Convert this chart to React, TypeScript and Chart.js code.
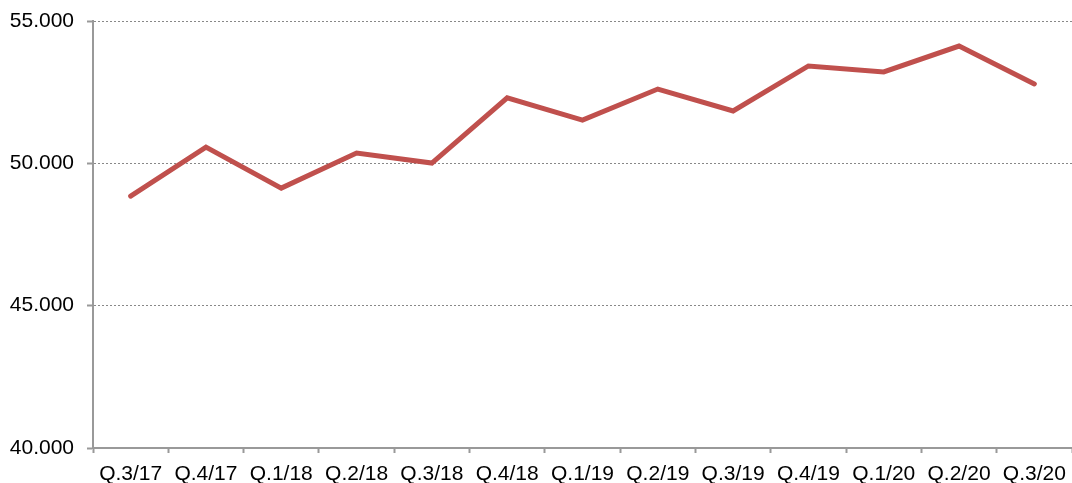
import React, { useEffect, useRef } from "react";
import { Chart, registerables } from "chart.js";

Chart.register(...registerables);

const categories = ["Q.3/17", "Q.4/17", "Q.1/18", "Q.2/18", "Q.3/18", "Q.4/18", "Q.1/19", "Q.2/19", "Q.3/19", "Q.4/19", "Q.1/20", "Q.2/20", "Q.3/20"];
const values = [48.85, 50.57, 49.13, 50.36, 50.01, 52.3, 51.52, 52.61, 51.84, 53.42, 53.21, 54.12, 52.79];
const yMin = 40;
const yMax = 55;
const yStep = 5;

const fmt = (v: number) => v.toFixed(3);

export default function App() {
  const ref = useRef<HTMLCanvasElement | null>(null);
  useEffect(() => {
    document.body.style.margin = "0";
    const ctx = ref.current!;
    const chart = new Chart(ctx, {
      type: "line",
      data: {
        labels: categories,
        datasets: [
          {
            data: values,
            borderColor: "#C0504D",
            borderWidth: 5,
            borderCapStyle: "round",
            borderJoinStyle: "miter",
            pointRadius: 0,
            tension: 0,
            fill: false,
          },
        ],
      },
      options: {
        animation: false,
        responsive: false,
        maintainAspectRatio: false,
        layout: { padding: { top: 21, right: 0, left: 0, bottom: 0 } },
        plugins: { legend: { display: false }, tooltip: { enabled: false } },
        scales: {
          x: {
            offset: true,
            grid: {
              offset: true,
              drawOnChartArea: false,
              drawTicks: true,
              tickLength: 5,
              tickColor: "#999999",
              tickWidth: 2,
            },
            border: { color: "#999999", width: 2 },
            ticks: {
              color: "#000",
              font: { family: "Liberation Sans, Arial", size: 21 },
              padding: 9,
              maxRotation: 0,
              autoSkip: false,
            },
            afterFit: (s: any) => {
              s.height = 35;
              s.paddingLeft = 0;
              s.paddingRight = 0;
            },
          },
          y: {
            min: yMin,
            max: yMax,
            grid: {
              color: "#888888",
              lineWidth: 1,
              drawTicks: true,
              tickLength: 6,
              tickColor: "#999999",
              tickWidth: 2,
              tickBorderDash: [],
            },
            border: { color: "#999999", width: 2, dash: [2, 2] },
            ticks: {
              stepSize: yStep,
              color: "#000",
              font: { family: "Liberation Sans, Arial", size: 21 },
              padding: 13,
              callback: (v: any) => fmt(Number(v)),
            },
            afterFit: (s: any) => {
              s.width = 93;
              s.paddingTop = 0;
              s.paddingBottom = 0;
            },
          },
        },
      },
    });
    return () => chart.destroy();
  }, []);
  return (
    <div style={{ position: "absolute", left: 0, top: 0, width: 1072, height: 483 }}>
      <canvas ref={ref} width={1072} height={483} style={{ width: 1072, height: 483 }} />
    </div>
  );
}
